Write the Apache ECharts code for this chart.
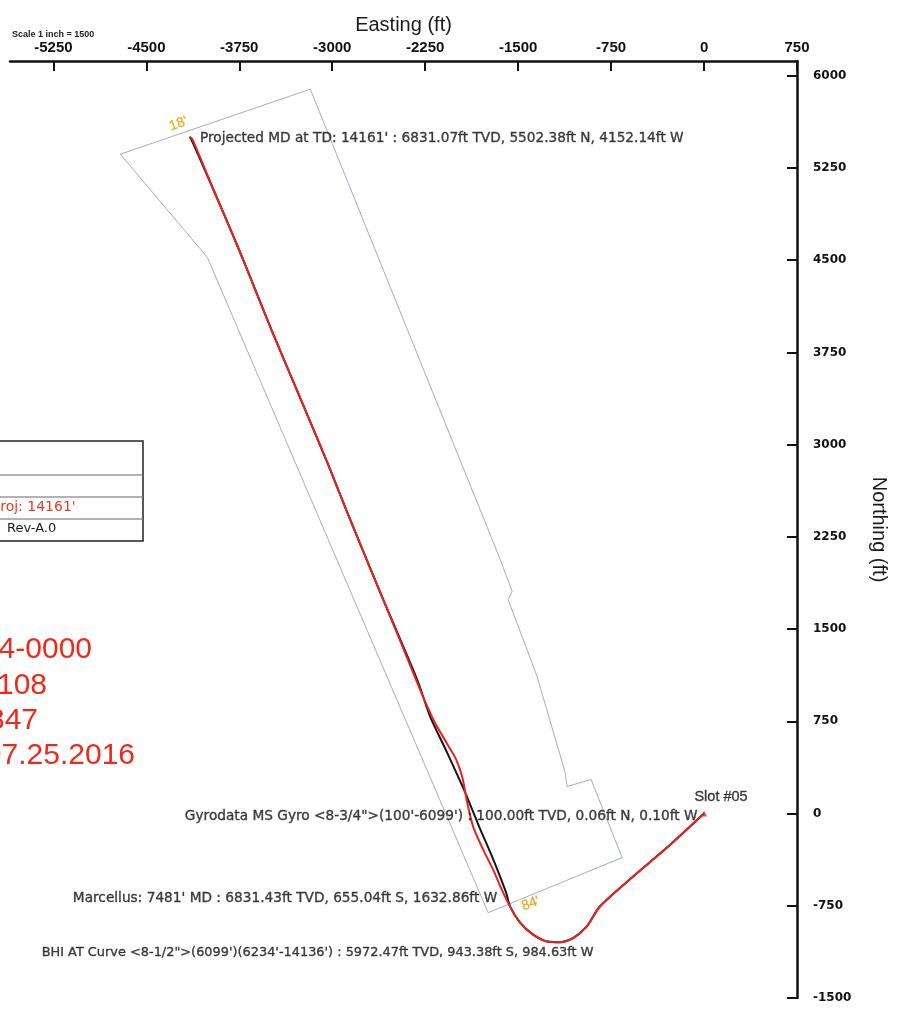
<!DOCTYPE html>
<html lang="en">
<head>
    <meta charset="UTF-8">
    <title>Plan view</title>
    <script src="https://cdn.jsdelivr.net/npm/echarts@6/dist/echarts.min.js"></script>
    <style>
        html, body { margin: 0; padding: 0; background: #fff; }
    </style>
</head>
<body>
    <div id="main" style="width: 909px;height:1010px;"></div>
    <script type="text/javascript">
        var myChart = echarts.init(document.getElementById('main'));

        // tick labels
        let xTicks = [-5250, -4500, -3750, -3000, -2250, -1500, -750, 0, 750];
        let yTicks = [-1500, -750, 0, 750, 1500, 2250, 3000, 3750, 4500, 5250, 6000];

        // actual well path (red), easting / northing in ft, from slot to TD
        let redE = [0, -301, -570, -839, -946, -1054, -1161, -1266, -1379, -1484, -1565, -1621, -1702, -1782,
            -1863, -1911, -1952, -2000, -2065, -2185, -2282, -2347, -2613, -2879, -3040, -3298, -3492, -3710,
            -3798, -3960, -4129, -4152];
        let redN = [0, -279, -510, -754, -917, -1011, -1047, -1041, -985, -887, -757, -643, -456, -293,
            -106, 90, 301, 439, 553, 765, 985, 1147, 1798, 2449, 2856, 3474, 3938, 4483,
            4695, 5077, 5484, 5502];

        // plan (black)
        let blackE = [0, -301, -570, -839, -946, -1054, -1161, -1266, -1379, -1484, -1565, -1597, -1710, -1815,
            -1927, -2073, -2210, -2315, -2613, -2879, -3040, -3298, -3492, -3710, -3798, -3960, -4140, -4152];
        let blackN = [0, -279, -510, -754, -917, -1011, -1047, -1041, -985, -887, -757, -643, -350, -106,
            171, 496, 789, 1090, 1798, 2449, 2856, 3474, 3938, 4483, 4695, 5077, 5490, 5502];

        // lease / hardline polygon
        let polyE = [-4710, -3177, -1645, -1548, -1581, -1347, -1121, -1105, -911, -661, -1742, -4008, -4710];
        let polyN = [5362, 5891, 2067, 1806, 1741, 1115, 334, 220, 277, -358, -806, 4524, 5362];

        // annotated points
        let annoE = [-4152.14, -0.10, 0, -1632.86, -984.63, -4152.14, -1632.86];
        let annoN = [5502.38, 0.06, 0, -655.04, -943.38, 5502.38, -655.04];
        let annoText = [
            "Projected MD at TD: 14161' : 6831.07ft TVD, 5502.38ft N, 4152.14ft W",
            "Gyrodata MS Gyro <8-3/4\">(100'-6099') : 100.00ft TVD, 0.06ft N, 0.10ft W",
            "Slot #05",
            "Marcellus: 7481' MD : 6831.43ft TVD, 655.04ft S, 1632.86ft W",
            "BHI AT Curve <8-1/2\">(6099')(6234'-14136') : 5972.47ft TVD, 943.38ft S, 984.63ft W",
            "18'",
            "84'"
        ];

        let pairs = (a, b) => a.map((v, i) => [v, b[i]]);

        let txt = {fontFamily: 'DejaVu Sans', fontSize: 13.7, color: '#111', textBorderColor: '#111', textBorderWidth: 0.35};
        let labelStyles = [
            {position: 'right', distance: 10, offset: [0, 1]},
            {position: 'left', distance: 6, offset: [0, 3]},
            {position: 'top', distance: 6, offset: [17, 0], fontFamily: 'Liberation Sans', fontSize: 14.5},
            {position: 'left', distance: 4, offset: [0, 4]},
            {position: 'left', distance: 5, offset: [17, 23], fontSize: 12.9},
            {position: 'inside', offset: [-6, -16], rotate: 20, color: '#e0a000', textBorderColor: '#e0a000', fontFamily: 'Liberation Sans', fontSize: 14},
            {position: 'inside', offset: [24, 19], rotate: 20, color: '#e0a000', textBorderColor: '#e0a000', fontFamily: 'Liberation Sans', fontSize: 14}
        ];
        // one scatter series per note so every label is drawn
        let noteSeries = annoE.map((e, i) => {
            let isSlot = annoText[i] === 'Slot #05';
            return {
                name: 'note' + i,
                type: 'scatter',
                data: [[e, annoN[i]]],
                symbol: isSlot ? 'triangle' : 'circle',
                symbolSize: isSlot ? 6 : 1,
                itemStyle: {color: isSlot ? '#e8231c' : 'rgba(255,255,255,0)'},
                label: Object.assign({show: true, formatter: annoText[i]}, txt, labelStyles[i]),
                silent: true,
                z: 5
            };
        });

        let axisFont = {fontFamily: 'Liberation Sans', fontSize: 20, color: '#1a1a1a'};
        let plain = (v) => String(v);

        let option = {
            animation: false,
            backgroundColor: '#fff',
            grid: {left: 10, right: 112, top: 61, bottom: 12},
            xAxis: {
                type: 'value',
                position: 'top',
                min: -5600,
                max: 750,
                name: 'Easting (ft)',
                nameLocation: 'middle',
                nameGap: 22,
                nameTextStyle: axisFont,
                axisLine: {show: true, onZero: false, lineStyle: {color: '#111', width: 2.5}},
                axisTick: {show: true, inside: true, length: 10, customValues: xTicks, lineStyle: {color: '#111', width: 2}},
                axisLabel: {customValues: xTicks, formatter: plain, margin: 6, fontFamily: 'Liberation Sans', fontSize: 15, fontWeight: 'bold', color: '#111'},
                splitLine: {show: false}
            },
            yAxis: {
                type: 'value',
                position: 'right',
                min: -1500,
                max: 6120,
                name: 'Northing (ft)',
                nameLocation: 'middle',
                nameRotate: -90,
                nameGap: 72,
                nameTextStyle: axisFont,
                axisLine: {show: true, onZero: false, lineStyle: {color: '#111', width: 2.5}},
                axisTick: {show: true, inside: true, length: 10, customValues: yTicks, lineStyle: {color: '#111', width: 2}},
                axisLabel: {customValues: yTicks, formatter: plain, margin: 16, fontFamily: 'DejaVu Sans', fontSize: 12, fontWeight: 'bold', color: '#111'},
                splitLine: {show: false}
            },
            series: [
                {
                    name: 'Hardline',
                    type: 'line',
                    data: pairs(polyE, polyN),
                    showSymbol: false,
                    silent: true,
                    lineStyle: {color: '#a3abc9', width: 1}
                },
                {
                    name: 'Plan',
                    type: 'line',
                    data: pairs(blackE, blackN),
                    showSymbol: false,
                    smooth: 0.25,
                    lineStyle: {color: '#151515', width: 2}
                },
                {
                    name: 'Actual',
                    type: 'line',
                    data: pairs(redE, redN),
                    showSymbol: false,
                    smooth: 0.3,
                    lineStyle: {color: '#e8231c', width: 2}
                }
            ].concat(noteSeries),
            graphic: [
                {type: 'text', left: 12, top: 30, style: {text: 'Scale 1 inch = 1500', fontFamily: 'Liberation Sans', fontSize: 9, fontWeight: 'bold', fill: '#222'}},
                {type: 'rect', shape: {x: -10, y: 441, width: 153, height: 100}, style: {fill: 'none', stroke: '#222', lineWidth: 1.5}},
                {type: 'line', shape: {x1: -10, y1: 475, x2: 143, y2: 475}, style: {stroke: '#666', lineWidth: 1}},
                {type: 'line', shape: {x1: -10, y1: 497, x2: 143, y2: 497}, style: {stroke: '#666', lineWidth: 1}},
                {type: 'line', shape: {x1: -10, y1: 519, x2: 143, y2: 519}, style: {stroke: '#666', lineWidth: 1}},
                {type: 'text', x: -8, y: 500, style: {text: "Proj: 14161'", fontFamily: 'DejaVu Sans', fontSize: 14, fill: '#e2401c'}},
                {type: 'text', x: 7, y: 522, style: {text: 'Rev-A.0', fontFamily: 'DejaVu Sans', fontSize: 13, fill: '#1a1a1a'}},
                {type: 'text', x: 92, y: 635, style: {text: '4-0000', align: 'right', fontFamily: 'Liberation Sans', fontSize: 30, fill: '#ee2a1c'}},
                {type: 'text', x: 47, y: 671, style: {text: '108', align: 'right', fontFamily: 'Liberation Sans', fontSize: 30, fill: '#ee2a1c'}},
                {type: 'text', x: 38, y: 706, style: {text: '347', align: 'right', fontFamily: 'Liberation Sans', fontSize: 30, fill: '#ee2a1c'}},
                {type: 'text', x: 135, y: 741, style: {text: '07.25.2016', align: 'right', fontFamily: 'Liberation Sans', fontSize: 30, fill: '#ee2a1c'}}
            ]
        };

        myChart.setOption(option);
    </script>
</body>
</html>
